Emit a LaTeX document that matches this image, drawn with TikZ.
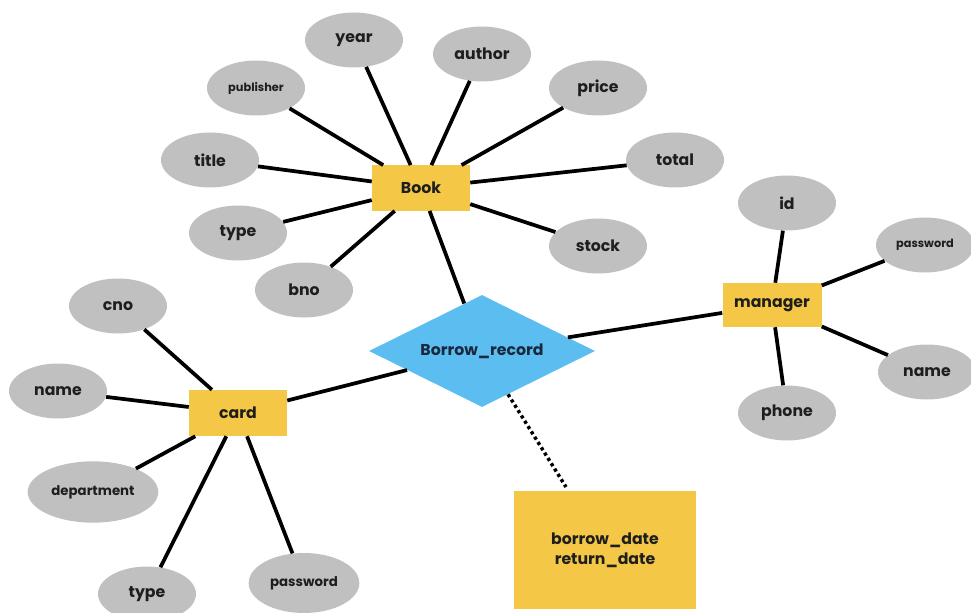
\documentclass[tikz,border=0pt]{standalone}
\usepackage{fontspec}
\setmainfont{Poppins}
\usetikzlibrary{shapes.geometric,calc}
\definecolor{entyellow}{RGB}{244,200,70}
\definecolor{relblue}{RGB}{92,190,240}
\definecolor{attgray}{RGB}{192,192,192}
\definecolor{txtdark}{RGB}{30,30,30}
\definecolor{reltxt}{RGB}{25,40,60}
\tikzset{
  x=0.75pt, y=-0.75pt,
  attr/.style={ellipse, fill=attgray, inner sep=0pt, minimum width=73.5pt, minimum height=41.25pt,
    text=txtdark, font=\fontsize{11.8}{13}\selectfont\bfseries},
  smallattr/.style={attr, font=\fontsize{8.5}{10}\selectfont\bfseries},
  midattr/.style={attr, font=\fontsize{10}{12}\selectfont\bfseries},
  entity/.style={rectangle, fill=entyellow, inner sep=0pt, minimum width=73.5pt, minimum height=34pt,
    text=txtdark, font=\fontsize{11.8}{13}\selectfont\bfseries},
  relation/.style={diamond, fill=relblue, inner sep=0pt, aspect=2, minimum width=169.5pt, minimum height=84pt,
    text=reltxt, font=\fontsize{11.8}{13}\selectfont\bfseries},
  notebox/.style={rectangle, fill=entyellow, inner sep=0pt, minimum width=137pt, minimum height=89pt,
    text=txtdark, align=center, font=\fontsize{11.8}{15}\selectfont\bfseries},
  link/.style={draw=black, line width=2.8pt},
  dotlink/.style={draw=black, line width=2.6pt, dash pattern=on 2.4pt off 2.3pt}
}
\begin{document}
\begin{tikzpicture}
\useasboundingbox (0,0) rectangle (971,613);
% entities and relation
\node[entity] (book) at (421,188) {Book};
\node[entity, minimum height=34.5pt] (card) at (238,413) {card};
\node[entity, minimum width=74.25pt, minimum height=33pt] (manager) at (772,305) {manager};
\node[relation] (br) at (482,351) {Borrow\_record};
\node[notebox] (note) at (605,550) {borrow\_date\\return\_date};
% Book attributes
\node[attr] (year) at (354,40) {year};
\node[attr] (author) at (482,54) {author};
\node[smallattr] (publisher) at (256,88) {publisher};
\node[attr] (price) at (598,88) {price};
\node[attr] (title) at (210,160) {title};
\node[attr] (total) at (675,160) {total};
\node[attr] (btype) at (238,233) {type};
\node[attr] (stock) at (598,246) {stock};
\node[attr] (bno) at (304,290) {bno};
% card attributes
\node[attr] (cno) at (118,306) {cno};
\node[attr] (cname) at (58,391) {name};
\node[midattr, minimum width=98pt, minimum height=46pt] (dept) at (93,492) {department};
\node[attr] (ctype) at (147,594) {type};
\node[midattr, minimum width=83pt, minimum height=45pt] (cpass) at (304,583) {password};
% manager attributes
\node[attr] (mid) at (787,203) {id};
\node[smallattr] (mpass) at (925,245) {password};
\node[attr] (mname) at (927,372) {name};
\node[attr] (phone) at (787,413) {phone};
% connectors
\foreach \a in {year,author,publisher,price,title,total,btype,stock,bno}
  \draw[link] (book) -- (\a);
\foreach \a in {cno,cname,dept,ctype,cpass}
  \draw[link] (card) -- (\a);
\foreach \a in {mid,mpass,mname,phone}
  \draw[link] (manager) -- (\a);
\draw[link] (book) -- (br);
\draw[link] (card) -- (br);
\draw[link] (manager) -- (br);
\coordinate (dotstart) at ($(br.south)!0.23!(br.east)$);
\coordinate (dotend) at (566,487);
\draw[dotlink] (dotstart) -- (dotend);
\end{tikzpicture}
\end{document}
